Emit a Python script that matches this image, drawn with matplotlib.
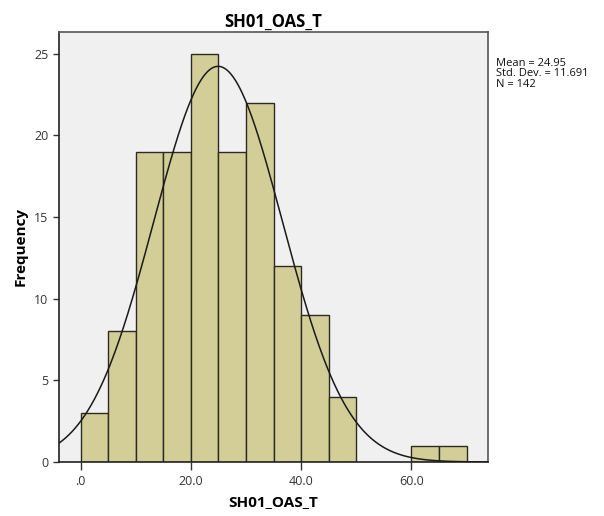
import numpy as np
import matplotlib
matplotlib.use('Agg')
import matplotlib.pyplot as plt


# Histogram counts (bin width 5)
bin_edges = [0, 5, 10, 15, 20, 25, 30, 35, 40, 45, 50, 55, 60, 65, 70]
counts = [3, 8, 19, 19, 25, 19, 22, 12, 9, 4, 0, 0, 1, 1]
mean_val = 24.95
std_val = 11.691
n_val = 142

plt.rcParams['font.family'] = ['Open Sans', 'DejaVu Sans']

fig = plt.figure(figsize=(6.04, 5.16), dpi=100)
ax = fig.add_axes([0.0977, 0.1047, 0.7103, 0.8333])
ax.set_facecolor('#f0f0f0')

lefts = bin_edges[:-1]
widths = np.diff(bin_edges)
for l, w, c in zip(lefts, widths, counts):
    if c > 0:
        ax.bar(l, c, width=w, align='edge', color='#d3ce97',
               edgecolor='#2b2b22', linewidth=1.0, zorder=2)

# Normal curve scaled to counts
xs = np.linspace(-3.9, 73.9, 400)
ys = n_val * 5 / (std_val * np.sqrt(2 * np.pi)) * np.exp(-0.5 * ((xs - mean_val) / std_val) ** 2)
ax.plot(xs, ys, color='#1a1a1a', linewidth=1.1, zorder=3)

ax.set_xlim(-3.9, 73.9)
ax.set_ylim(0, 26.33)
ax.set_xticks([0, 20, 40, 60])
ax.set_xticklabels(['.0', '20.0', '40.0', '60.0'])
ax.set_yticks([0, 5, 10, 15, 20, 25])
ax.tick_params(axis='both', labelsize=9, colors='#333333', length=4, width=1)
ax.tick_params(axis='x', length=6)
for s in ax.spines.values():
    s.set_color('#555555')
    s.set_linewidth(1.2)
ax.spines['left'].set_color('#222222')
ax.spines['bottom'].set_color('#222222')

ax.set_xlabel('SH01_OAS_T', fontsize=11, fontweight='bold', labelpad=5)
ax.set_ylabel('Frequency', fontsize=11, fontweight='bold', labelpad=5)
ax.set_title('SH01_OAS_T', fontsize=12, fontweight='bold', pad=4)

fig.text(0.822, 0.888,
         'Mean = %.2f\nStd. Dev. = %.3f\nN = %d' % (mean_val, std_val, n_val),
         fontsize=8, va='top', ha='left', linespacing=0.95, color='#111111')

fig.savefig('out.png', dpi=100)
